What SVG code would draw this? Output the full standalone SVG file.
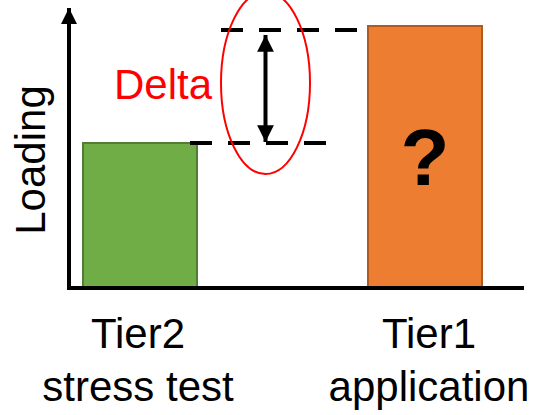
<svg xmlns="http://www.w3.org/2000/svg" width="534" height="415" viewBox="0 0 534 415">
  <style>
    .lbl { font-family: "Liberation Sans", Arial, sans-serif; font-size: 42px; fill: #000; }
    .axis { stroke: #000; stroke-width: 4; fill: none; }
    .dash { stroke: #000; stroke-width: 4; stroke-dasharray: 22 16; fill: none; }
  </style>
  <defs>
    <marker id="arrow" viewBox="0 0 10 10" refX="10" refY="5" markerWidth="4.2" markerHeight="4.2" orient="auto-start-reverse" markerUnits="strokeWidth">
      <path d="M0,0 L10,5 L0,10 Z" fill="#000"/>
    </marker>
    <marker id="axisArrow" viewBox="0 0 10 10" refX="10" refY="5" markerWidth="4" markerHeight="4" orient="auto" markerUnits="strokeWidth">
      <path d="M0,0 L10,5 L0,10 Z" fill="#000"/>
    </marker>
  </defs>

  <!-- bars -->
  <g id="bar-tier2">
    <rect x="83" y="143" width="114" height="144" fill="#70AD47" stroke="#507E32" stroke-width="2"/>
  </g>
  <g id="bar-tier1">
    <rect x="368" y="26" width="114" height="261" fill="#ED7D31" stroke="#AE5A21" stroke-width="2"/>
    <text x="425" y="185" text-anchor="middle" font-family="Liberation Sans, Arial, sans-serif" font-weight="bold" font-size="80" fill="#000">?</text>
  </g>

  <!-- axes -->
  <g id="axes">
    <line class="axis" x1="69" y1="290" x2="69" y2="8" marker-end="url(#axisArrow)"/>
    <line class="axis" x1="67" y1="288" x2="524" y2="288"/>
  </g>

  <!-- level guides and delta arrow -->
  <g id="connectors">
    <line class="dash" x1="221" y1="30" x2="357" y2="30"/>
    <line class="dash" x1="190" y1="143" x2="326" y2="143"/>
    <line x1="265.5" y1="35" x2="265.5" y2="142" stroke="#000" stroke-width="4" marker-start="url(#arrow)" marker-end="url(#arrow)"/>
  </g>

  <g id="delta">
    <ellipse cx="265.5" cy="83" rx="44.5" ry="91" fill="none" stroke="#FF0000" stroke-width="2"/>
    <text class="lbl" x="114" y="99" fill="#FF0000" style="fill:#FF0000">Delta</text>
  </g>

  <!-- labels -->
  <g id="label-loading">
    <text class="lbl" transform="translate(45,160) rotate(-90)" text-anchor="middle">Loading</text>
  </g>
  <g id="label-tier2">
    <text class="lbl" x="138" y="348" text-anchor="middle">Tier2</text>
    <text class="lbl" x="138" y="401" text-anchor="middle">stress test</text>
  </g>
  <g id="label-tier1">
    <text class="lbl" x="429" y="348" text-anchor="middle">Tier1</text>
    <text class="lbl" x="429" y="401" text-anchor="middle">application</text>
  </g>
</svg>
